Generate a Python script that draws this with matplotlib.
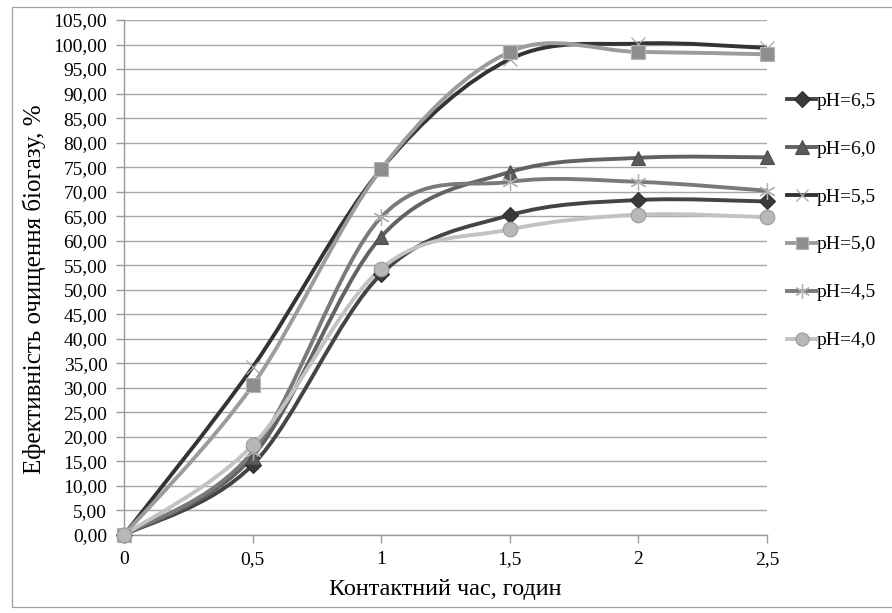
import numpy as np
import matplotlib
matplotlib.use("Agg")
import matplotlib.pyplot as plt
from matplotlib.path import Path
from matplotlib.patches import PathPatch, Rectangle
from matplotlib.lines import Line2D
from matplotlib.ticker import FuncFormatter, MultipleLocator
from matplotlib import font_manager

serif_name = "Liberation Serif"
for f in font_manager.fontManager.ttflist:
    if "Liberation Serif" in f.name or "Tinos" in f.name:
        serif_name = f.name
        break
plt.rcParams["font.family"] = "serif"
plt.rcParams["font.serif"] = [serif_name, "DejaVu Serif"]

hours = [0, 0.5, 1, 1.5, 2, 2.5]
x_tick_labels = ["0", "0,5", "1", "1,5", "2", "2,5"]

ph_65 = [0, 14.3, 53.2, 65.2, 68.3, 68.0]
ph_60 = [0, 16.0, 60.8, 74.0, 76.9, 77.0]
ph_55 = [0, 34.2, 74.6, 97.0, 100.2, 99.3]
ph_50 = [0, 30.5, 74.6, 98.5, 98.5, 98.0]
ph_45 = [0, 17.0, 64.8, 72.0, 72.0, 70.2]
ph_40 = [0, 18.3, 54.3, 62.3, 65.3, 64.8]

labels = ["pH=6,5", "pH=6,0", "pH=5,5", "pH=5,0", "pH=4,5", "pH=4,0"]
series = [ph_65, ph_60, ph_55, ph_50, ph_45, ph_40]

styles = [
    dict(color="#444444", marker="D", mfc="#3a3a3a", mec="#2e2e2e", ms=8.5, mew=0.8),
    dict(color="#626262", marker="^", mfc="#5a5a5a", mec="#4e4e4e", ms=10.5, mew=0.8),
    dict(color="#333333", marker="x", mfc="none", mec="#a8a8a8", ms=10, mew=0.9),
    dict(color="#9c9c9c", marker="s", mfc="#8e8e8e", mec="#b4b4b4", ms=10, mew=0.8),
    dict(color="#7a7a7a", marker=(6, 2, 0), mfc="none", mec="#b0b0b0", ms=12, mew=0.9),
    dict(color="#c2c2c2", marker="o", mfc="#b8b8b8", mec="#9a9a9a", ms=10.5, mew=0.8),
]

LW = 2.8


def smooth_path(xs, ys):
    """Bezier path through the points with Excel-like smoothing."""
    pts = np.column_stack([xs, ys]).astype(float)
    n = len(pts)
    verts = [pts[0]]
    codes = [Path.MOVETO]
    for i in range(n - 1):
        p0 = pts[i - 1] if i > 0 else pts[i]
        p1 = pts[i]
        p2 = pts[i + 1]
        p3 = pts[i + 2] if i + 2 < n else pts[i + 1]
        c1 = p1 + (p2 - p0) / 6.0
        c2 = p2 - (p3 - p1) / 6.0
        verts += [c1, c2, p2]
        codes += [Path.CURVE4] * 3
    return Path(verts, codes)


fig = plt.figure(figsize=(8.92, 6.13), dpi=100)
fig.patches.append(Rectangle((12 / 892, 1 - 607 / 613), 900 / 892, 600 / 613,
                             transform=fig.transFigure, fill=False,
                             edgecolor="#a0a0a0", linewidth=0.9))

ax = fig.add_axes([124 / 892, 1 - 535 / 613, (767 - 124) / 892, (535 - 20) / 613])
ax.set_xlim(0, 2.5)
ax.set_ylim(0, 105)

ax.yaxis.set_major_locator(MultipleLocator(5))
ax.yaxis.set_major_formatter(FuncFormatter(lambda v, p: f"{v:.2f}".replace(".", ",")))
ax.set_xticks(hours)
ax.set_xticklabels(x_tick_labels)
ax.grid(axis="y", color="#a6a6a6", linewidth=1.0)
ax.set_axisbelow(True)

for side in ("top", "right"):
    ax.spines[side].set_visible(False)
for side in ("left", "bottom"):
    ax.spines[side].set_color("#9a9a9a")
    ax.spines[side].set_linewidth(1.0)
ax.tick_params(axis="both", colors="#9a9a9a", length=5.5, width=1, labelsize=14,
               labelcolor="black")
ax.tick_params(axis="x", pad=6)
ax.tick_params(axis="y", pad=6.5)

for vals, st in zip(series, styles):
    patch = PathPatch(smooth_path(hours, vals), facecolor="none",
                      edgecolor=st["color"], linewidth=LW, capstyle="round",
                      joinstyle="round", zorder=3)
    ax.add_patch(patch)
    ax.plot(hours, vals, linestyle="none", marker=st["marker"], ms=st["ms"],
            mfc=st["mfc"], mec=st["mec"], mew=st["mew"], zorder=4, clip_on=False)

ax.set_xlabel("Контактний час, годин", fontsize=17.5, labelpad=8)
ax.set_ylabel("Ефективність очищення біогазу, %", fontsize=18)
ax.yaxis.set_label_coords(-0.121, 0.478)

handles = [Line2D([], [], color=st["color"], lw=LW, marker=st["marker"], ms=st["ms"] * 0.9,
                  mfc=st["mfc"], mec=st["mec"], mew=st["mew"]) for st in styles]
fig.legend(handles, labels, loc="upper left", bbox_to_anchor=(787 / 892, 1 - 92 / 613),
           frameon=False, fontsize=14, labelspacing=1.56, handlelength=1.5,
           handletextpad=0.0, borderaxespad=0, borderpad=0)

fig.savefig("out.png", dpi=100)
